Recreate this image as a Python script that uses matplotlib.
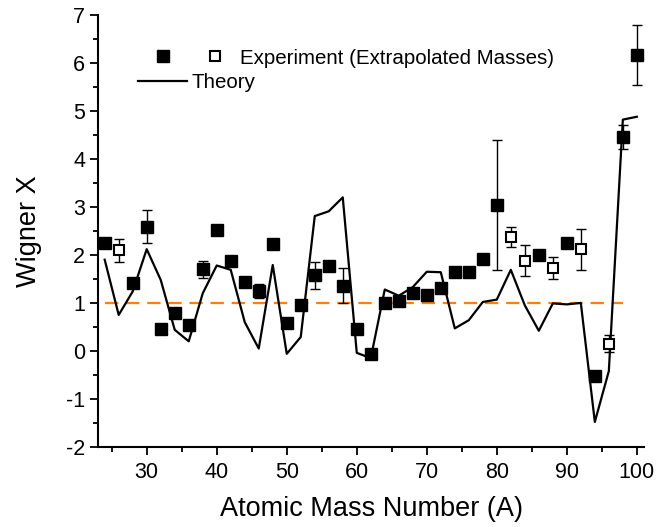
import matplotlib
matplotlib.use("Agg")
import matplotlib.pyplot as plt
from matplotlib.legend_handler import HandlerTuple
from matplotlib.ticker import MultipleLocator

plt.rcParams['font.family'] = ['Liberation Sans', 'DejaVu Sans']
plt.rcParams['axes.unicode_minus'] = False

# measured Wigner X (filled squares)
A_meas = [24, 28, 30, 32, 34, 36, 38, 40, 42, 44, 46, 48, 50, 52, 54, 56, 58,
          60, 62, 64, 66, 68, 70, 72, 74, 76, 78, 80, 86, 90, 94, 98, 100]
X_meas = [2.24, 1.41, 2.59, 0.46, 0.78, 0.54, 1.70, 2.52, 1.88, 1.44, 1.25, 2.22,
          0.58, 0.95, 1.58, 1.77, 1.36, 0.45, -0.06, 1.00, 1.03, 1.21, 1.16, 1.32,
          1.64, 1.65, 1.92, 3.04, 2.00, 2.24, -0.53, 4.46, 6.17]
err_meas = [0, 0, 0.34, 0, 0, 0, 0.18, 0, 0, 0, 0.15, 0, 0, 0, 0.28, 0, 0.36,
            0, 0, 0, 0, 0, 0, 0, 0, 0, 0, 1.36, 0, 0.08, 0, 0.25, 0.63]

# extrapolated masses (open squares)
A_extr = [26, 82, 84, 88, 92, 96]
X_extr = [2.10, 2.38, 1.88, 1.72, 2.12, 0.15]
err_extr = [0.24, 0.21, 0.32, 0.23, 0.43, 0.18]

# theory curve
A_th = [24, 26, 28, 30, 32, 34, 36, 38, 40, 42, 44, 46, 48, 50, 52, 54, 56, 58,
        60, 62, 64, 66, 68, 70, 72, 74, 76, 78, 80, 82, 84, 86, 88, 90, 92, 94,
        96, 98, 100]
X_th = [1.90, 0.75, 1.24, 2.12, 1.48, 0.44, 0.20, 1.20, 1.78, 1.69, 0.60, 0.05,
        1.79, -0.06, 0.29, 2.81, 2.91, 3.20, -0.04, -0.15, 1.28, 1.15, 1.33, 1.65,
        1.64, 0.47, 0.64, 1.02, 1.07, 1.69, 0.95, 0.42, 0.99, 0.97, 1.00, -1.48,
        -0.42, 4.82, 4.88]

# X = 1 reference line
ref_A = [24, 98]
ref_X = [1.0, 1.0]

fig = plt.figure(figsize=(6.56, 5.27), dpi=100)
ax = fig.add_axes([0.150, 0.152, 0.832, 0.8195])

ax.plot(ref_A, ref_X, color='#ff7f0e', lw=1.6, dashes=(6, 3.5), zorder=1)
th_line, = ax.plot(A_th, X_th, color='black', lw=1.6, zorder=2)

ax.errorbar(A_meas, X_meas, yerr=err_meas, fmt='none', ecolor='black',
            elinewidth=1.0, capsize=3.5, capthick=1.0, zorder=3)
ax.errorbar(A_extr, X_extr, yerr=err_extr, fmt='none', ecolor='black',
            elinewidth=1.0, capsize=3.5, capthick=1.0, zorder=3)
filled, = ax.plot(A_meas, X_meas, 's', ms=9, color='black', mec='black', zorder=4)
opened, = ax.plot(A_extr, X_extr, 's', ms=7.5, mfc='white', mec='black',
                  mew=1.5, zorder=4)

ax.set_xlim(23.1, 101.05)
ax.set_ylim(-2, 7)
ax.xaxis.set_major_locator(MultipleLocator(10))
ax.xaxis.set_minor_locator(MultipleLocator(5))
ax.yaxis.set_major_locator(MultipleLocator(1))
ax.yaxis.set_minor_locator(MultipleLocator(0.5))
for s in ['top', 'right']:
    ax.spines[s].set_visible(False)
for s in ['left', 'bottom']:
    ax.spines[s].set_linewidth(1.5)
ax.tick_params(which='major', direction='out', length=6, width=1.3, labelsize=15.5)
ax.tick_params(which='minor', direction='out', length=3.5, width=1.3)
ax.tick_params(axis='x', which='major', pad=5)

ax.set_xlabel('Atomic Mass Number (A)', fontsize=19.5, labelpad=9)
ax.set_ylabel('Wigner X', fontsize=19.5, labelpad=17)

fs = 14.8
fpx = fs * 100 / 72
leg1 = fig.legend([(filled, opened)], ['Experiment (Extrapolated Masses)'],
                  handler_map={tuple: HandlerTuple(ndivide=None, pad=42 / fpx)},
                  handlelength=62 / fpx, handletextpad=20 / fpx, fontsize=fs,
                  frameon=False, borderpad=0, borderaxespad=0,
                  loc='center left', bbox_to_anchor=(158 / 656, 1 - 58 / 527))
leg2 = fig.legend([th_line], ['Theory'], handlelength=49 / fpx,
                  handletextpad=5 / fpx, fontsize=fs, frameon=False,
                  borderpad=0, borderaxespad=0,
                  loc='center left', bbox_to_anchor=(138 / 656, 1 - 83 / 527))

fig.savefig('out.png', dpi=100)
